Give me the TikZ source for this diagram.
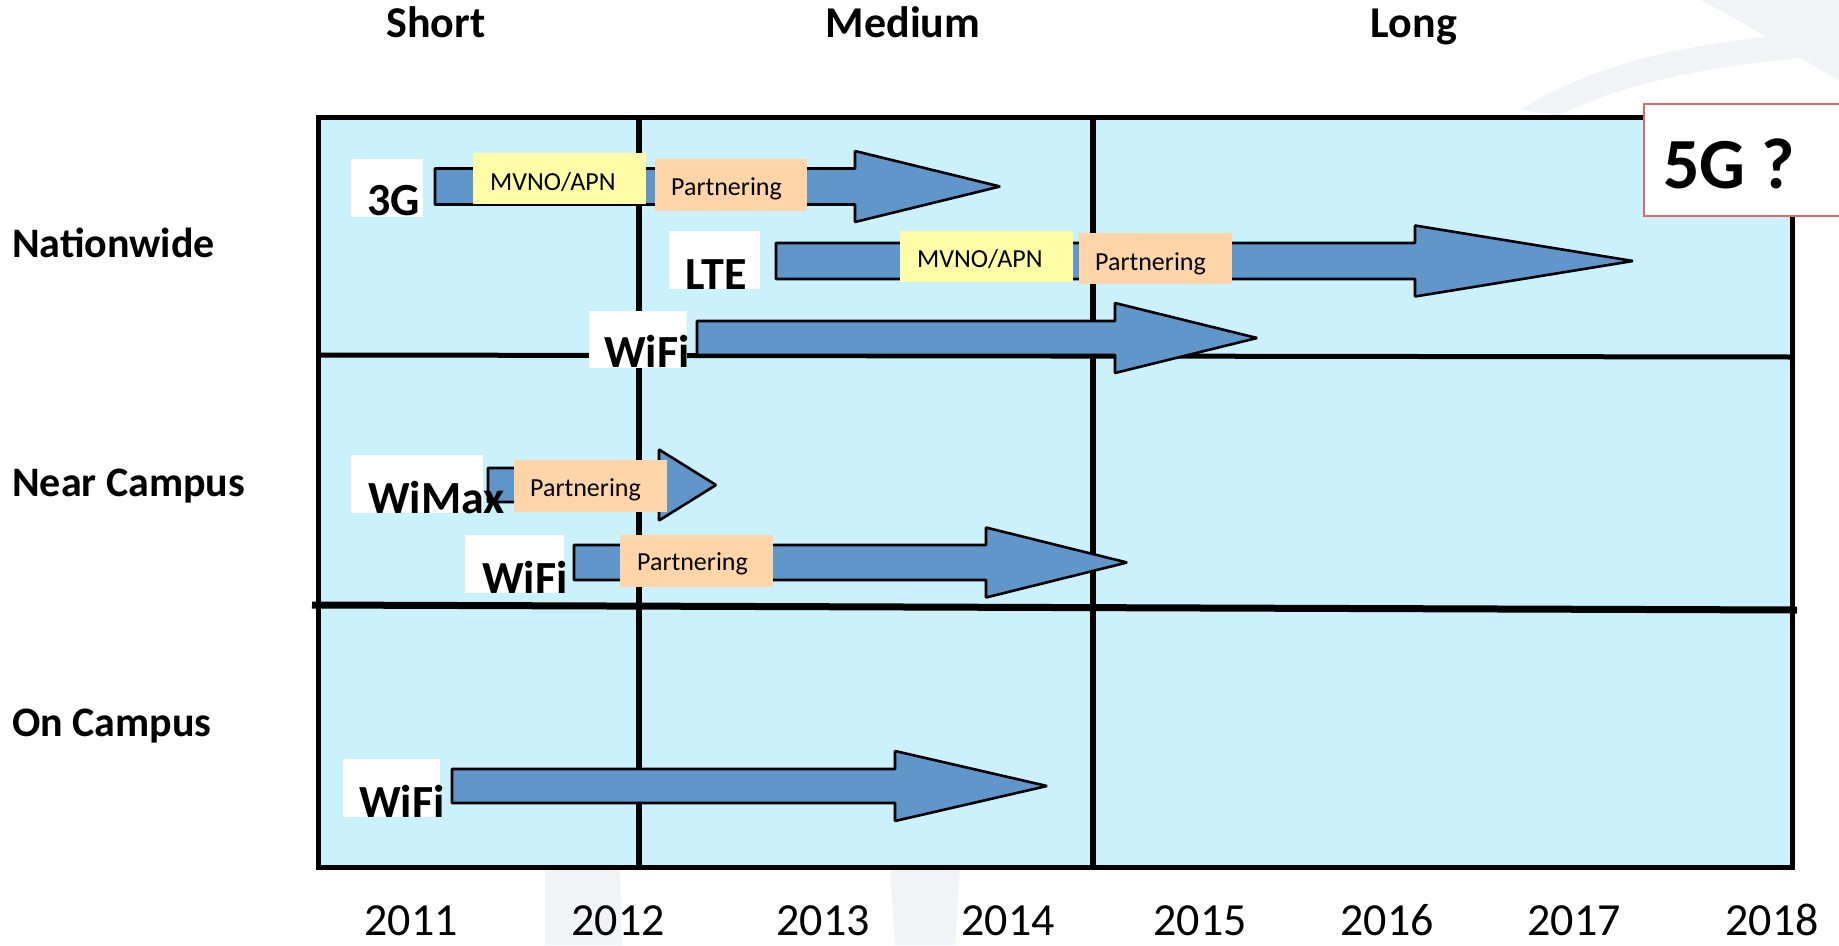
\documentclass[tikz,border=0pt]{standalone}
\usepackage{fontspec}
\setmainfont{Carlito}
\definecolor{cellbg}{RGB}{203,242,252}
\definecolor{arrowblue}{RGB}{97,150,202}
\definecolor{mvnoyellow}{RGB}{255,253,168}
\definecolor{partorange}{RGB}{253,213,168}
\definecolor{redframe}{RGB}{214,108,102}
\definecolor{watermark}{RGB}{242,243,247}
\newcommand\fatarr[6]{%
  \draw[arrowshape] (#1,#2-#3) -- (#4,#2-#3) -- (#4,#2-#5) -- (#6,#2) -- (#4,#2+#5) -- (#4,#2+#3) -- (#1,#2+#3) -- cycle;}
\tikzset{
  arrowshape/.style={fill=arrowblue, draw=black, line width=2.6pt, line join=bevel},
  gridline/.style={draw=black, line width=5.5pt},
  whitebox/.style={fill=white, draw=none},
  mvnobox/.style={fill=mvnoyellow, draw=none},
  partbox/.style={fill=partorange, draw=none},
  techlabel/.style={anchor=base west, inner sep=0pt, font=\bfseries\fontsize{46}{50}\selectfont},
  smalllabel/.style={anchor=base west, inner sep=0pt, font=\fontsize{26}{30}\selectfont},
  headlabel/.style={anchor=base, inner sep=0pt, font=\bfseries\fontsize{44}{50}\selectfont},
  rowlabel/.style={anchor=base west, inner sep=0pt, font=\bfseries\fontsize{42}{48}\selectfont},
  yearlabel/.style={anchor=base, inner sep=0pt, font=\fontsize{46}{50}\selectfont}
}
\begin{document}
\begin{tikzpicture}[x=1pt, y=-1pt]
\fill[white] (0,0) rectangle (1839,945);
\useasboundingbox (0,0) rectangle (1839,945);

% faint background watermark
\fill[watermark] (545,868) -- (620,868) -- (622,945) -- (545,945) -- cycle;
\fill[watermark] (890,868) -- (960,868) -- (955,945) -- (895,945) -- cycle;
\fill[watermark] (1700,0) .. controls (1760,30) and (1800,60) .. (1839,80) -- (1839,0) -- cycle;
\fill[watermark] (1520,110) .. controls (1600,60) and (1700,40) .. (1839,30) -- (1839,55) .. controls (1700,65) and (1620,85) .. (1560,115) -- cycle;

% column headings
\node[headlabel] (hshort) at (436,37) {Short};
\node[headlabel] (hmedium) at (903,37) {Medium};
\node[headlabel] (hlong) at (1414,37) {Long};

% row headings
\node[rowlabel] (rnation) at (12,257) {Nationwide};
\node[rowlabel] (rnear) at (12,496) {Near Campus};
\node[rowlabel] (ron) at (12,736) {On Campus};

% grid
\fill[cellbg] (318,117) rectangle (1792,867);
\draw[line width=5pt] (318,117) rectangle (1792,867);
\draw[gridline] (639,117) -- (639,867);
\draw[gridline] (1093,117) -- (1093,867);
\draw[line width=5pt] (318,355) -- (1792,357);
\draw[line width=7pt] (312,605) -- (1797,610);

% years
\node[yearlabel] (y2011) at (411,935) {2011};
\node[yearlabel] (y2012) at (618,935) {2012};
\node[yearlabel] (y2013) at (823,935) {2013};
\node[yearlabel] (y2014) at (1008,935) {2014};
\node[yearlabel] (y2015) at (1200,935) {2015};
\node[yearlabel] (y2016) at (1387,935) {2016};
\node[yearlabel] (y2017) at (1574,935) {2017};
\node[yearlabel] (y2018) at (1772,935) {2018};

% arrows
\fatarr{435}{186.5}{18}{855}{35.5}{1000}
\fatarr{776}{261}{18}{1415}{35.5}{1633}
\fatarr{697}{338}{17}{1115}{35}{1257}
\fatarr{488}{485}{17}{659}{35.5}{716}
\fatarr{574}{562.5}{17.5}{986}{35}{1127}
\fatarr{452}{786}{17}{895}{35}{1047}

% 3G row
\fill[whitebox] (351,159) rectangle (423,217);
\node[techlabel] (t3g) at (367,215) {3G};
\fill[mvnobox] (473,153) rectangle (646,204);
\node[smalllabel] (m1) at (490,190) {MVNO/APN};
\fill[partbox] (655,159) rectangle (807,211);
\node[smalllabel] (p1) at (671,195) {Partnering};

% LTE row
\fill[whitebox] (669,231) rectangle (760,289);
\node[techlabel] (tlte) at (685,289) {LTE};
\fill[mvnobox] (900,231) rectangle (1073,282);
\node[smalllabel] (m2) at (917,267) {MVNO/APN};
\fill[partbox] (1079,233) rectangle (1232,284);
\node[smalllabel] (p2) at (1095,270) {Partnering};

% WiFi nationwide
\fill[whitebox] (589,311) rectangle (687,368);
\node[techlabel] (twifi1) at (604,367) {WiFi};

% WiMax
\fill[whitebox] (351,455) rectangle (483,513);
\node[techlabel] (twimax) at (368,513) {WiMax};
\fill[partbox] (514,460) rectangle (667,512);
\node[smalllabel] (p3) at (530,496) {Partnering};

% WiFi near campus
\fill[whitebox] (465,535) rectangle (564,593);
\node[techlabel] (twifi2) at (482,593) {WiFi};
\fill[partbox] (620,535) rectangle (773,587);
\node[smalllabel] (p4) at (637,570) {Partnering};

% WiFi on campus
\fill[whitebox] (343,759) rectangle (440,817);
\node[techlabel] (twifi3) at (359,817) {WiFi};

% 5G box
\draw[fill=white, draw=redframe, line width=2.5pt] (1644,104) rectangle (1860,216);
\node[anchor=base west, inner sep=0pt, font=\bfseries\fontsize{72}{80}\selectfont] (t5g) at (1663,188) {5G ?};
\end{tikzpicture}
\end{document}
